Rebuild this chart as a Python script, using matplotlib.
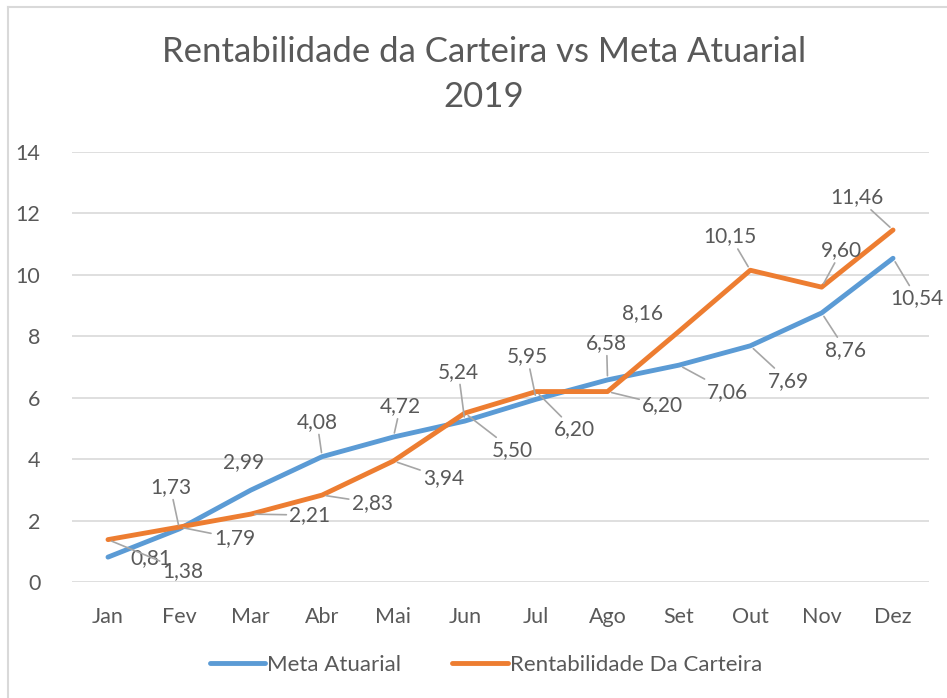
import matplotlib
matplotlib.use('Agg')
import matplotlib.pyplot as plt
from matplotlib.lines import Line2D

months = ['Jan', 'Fev', 'Mar', 'Abr', 'Mai', 'Jun', 'Jul', 'Ago', 'Set', 'Out', 'Nov', 'Dez']
meta = [0.81, 1.73, 2.99, 4.08, 4.72, 5.24, 5.95, 6.58, 7.06, 7.69, 8.76, 10.54]
rent = [1.38, 1.79, 2.21, 2.83, 3.94, 5.50, 6.20, 6.20, 8.16, 10.15, 9.60, 11.46]
yticks = [0, 2, 4, 6, 8, 10, 12, 14]
series_names = ['Meta Atuarial', 'Rentabilidade Da Carteira']
title_lines = ['Rentabilidade da Carteira vs Meta Atuarial', '2019']

# label placement (pixel offsets, y up) and whether a leader line is drawn
meta_off = [(43, -1, False), (-9, 42, True), (-7, 28.5, False), (-5, 35, True),
            (7, 31, True), (-6.5, 49.4, True), (-9, 43, True), (-1, 37, True),
            (49, -26.5, True), (38, -35, True), (24, -37, True), (24, -40, True)]
rent_off = [(75, -31, True), (55, -11, True), (59, -1, True), (50, -7.6, True),
            (50, -17, True), (48, -37, True), (38, -38, True), (55, -13.4, True),
            (-36, 18, False), (-20, 34, True), (20, 37, True), (-36, 33, True)]

BLUE = '#5B9BD5'
ORANGE = '#ED7D31'
TXT = '#595959'
GRID = '#D9D9D9'
LEAD = '#A6A6A6'

plt.rcParams['font.family'] = ['Lato', 'DejaVu Sans']

W, H = 947, 698
fig = plt.figure(figsize=(W / 100, H / 100), dpi=100)
fig.patch.set_facecolor('white')

ax = fig.add_axes([72.3 / W, 1 - 582 / H, (928.7 - 72.3) / W, (582 - 152) / H])
x = list(range(len(months)))
ax.plot(x, meta, color=BLUE, lw=3.5, solid_capstyle='round', solid_joinstyle='round',
        label=series_names[0], zorder=3)
ax.plot(x, rent, color=ORANGE, lw=3.5, solid_capstyle='round', solid_joinstyle='round',
        label=series_names[1], zorder=4)

ax.set_xlim(-0.5, len(months) - 0.5)
ax.set_ylim(0, 14)
ax.set_yticks(yticks)
ax.set_xticks(x)
ax.set_xticklabels(months)
ax.yaxis.grid(True, color=GRID, lw=1.2)
ax.set_axisbelow(True)
for s in ax.spines.values():
    s.set_visible(False)
ax.tick_params(axis='both', length=0, colors=TXT, labelsize=15.5)
ax.tick_params(axis='y', pad=23)
ax.tick_params(axis='x', pad=18)


def fmt(v):
    return f'{v:.2f}'.replace('.', ',')


def add_labels(vals, offs):
    for i, (v, (dx, dy, lead)) in enumerate(zip(vals, offs)):
        kw = {}
        if lead:
            kw['arrowprops'] = dict(arrowstyle='-', color=LEAD, lw=1.2, shrinkA=0, shrinkB=3)
        ax.annotate(fmt(v), xy=(i, v), xytext=(dx, dy), textcoords='offset pixels',
                    ha='center', va='center', fontsize=15, color=TXT, zorder=5,
                    annotation_clip=False, **kw)


add_labels(meta, meta_off)
add_labels(rent, rent_off)

fig.text(484 / W, 1 - 52 / H, title_lines[0], ha='center', va='center', fontsize=25, color=TXT)
fig.text(484 / W, 1 - 97 / H, title_lines[1], ha='center', va='center', fontsize=25, color=TXT)

leg = fig.legend(loc='center', bbox_to_anchor=(486 / W, 1 - 665 / H), ncol=2, frameon=False,
                 fontsize=16, handlelength=2.5, handletextpad=0.1, columnspacing=2.3)
for t in leg.get_texts():
    t.set_color(TXT)

# chart border (left and top edges visible)
fig.add_artist(Line2D([8 / W, 8 / W], [0, 1 - 7 / H], color=GRID, lw=1.5, transform=fig.transFigure))
fig.add_artist(Line2D([8 / W, 1], [1 - 7 / H, 1 - 7 / H], color=GRID, lw=1.5, transform=fig.transFigure))

fig.savefig('out.png', dpi=100, facecolor='white')
